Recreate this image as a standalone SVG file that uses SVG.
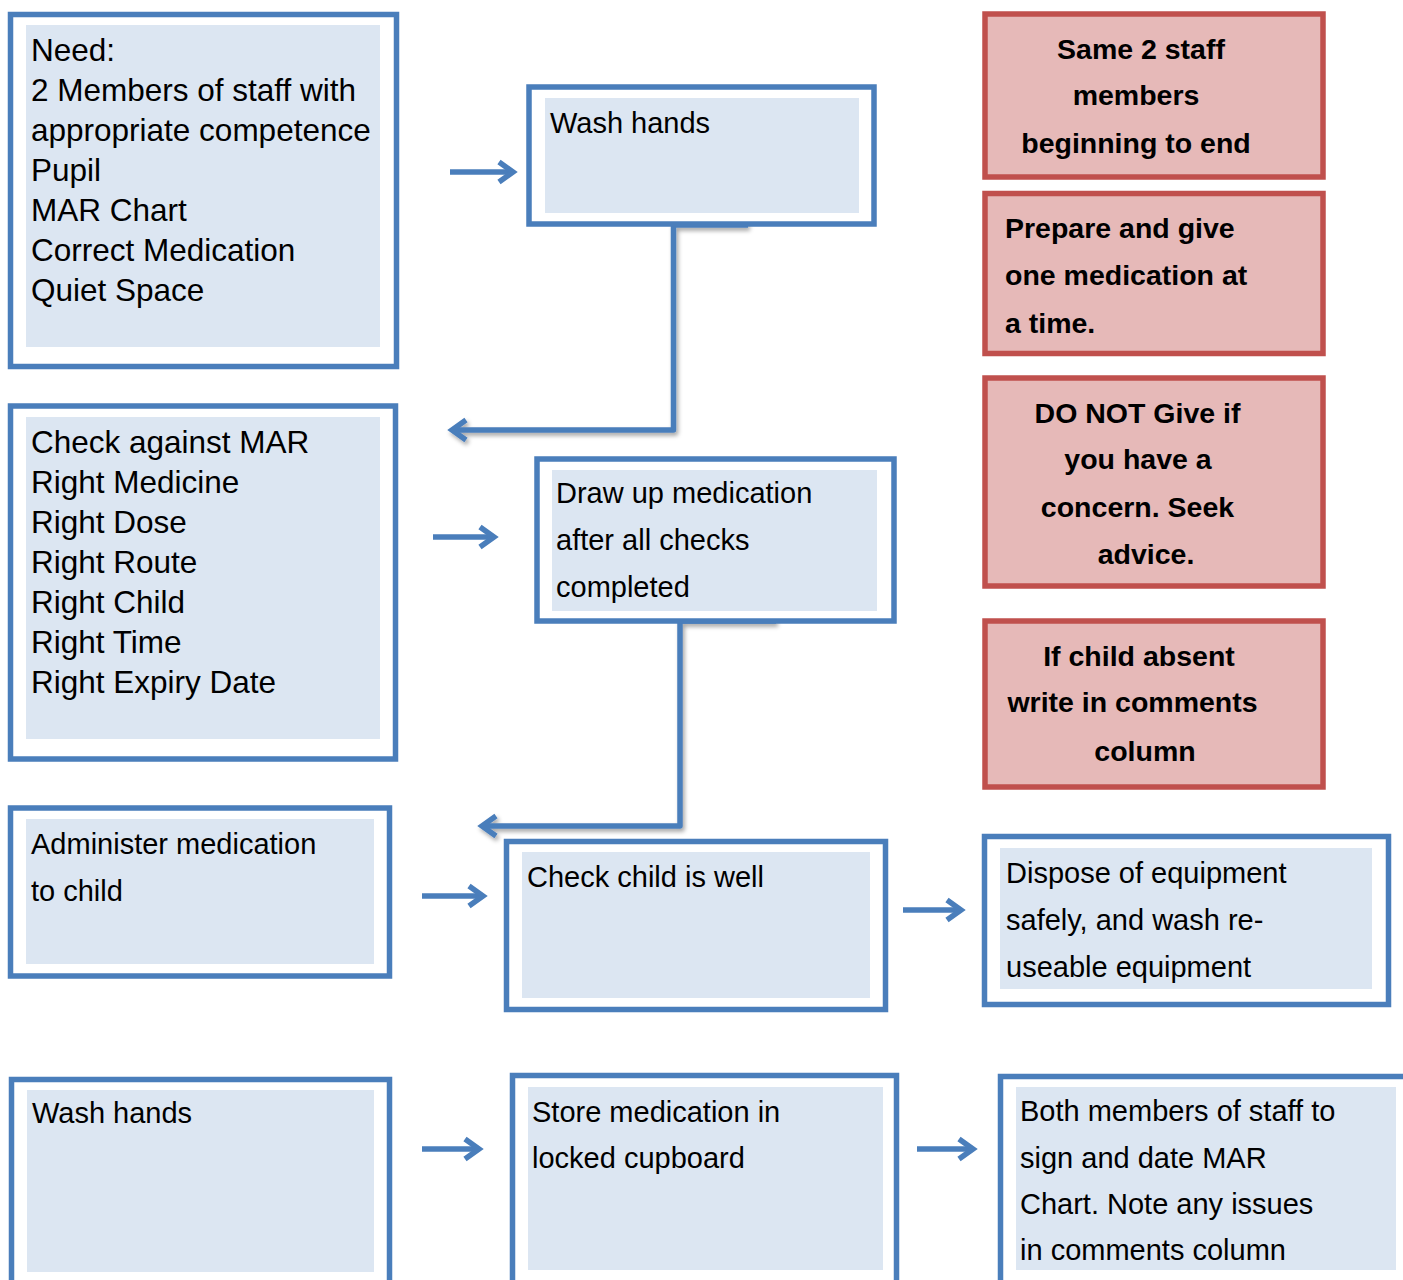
<svg xmlns="http://www.w3.org/2000/svg" width="1403" height="1280" viewBox="0 0 1403 1280">
<defs>
<style>
.outer{fill:#FFFFFF;stroke:#4A7EBB;stroke-width:5.5}
.inner{fill:#DCE6F2}
.red{fill:#E6B9B8;stroke:#C0504D;stroke-width:5.5}
.t{font-family:"Liberation Sans",Arial,sans-serif;font-size:29px;fill:#000}
.big{font-size:31.5px}
.b{font-family:"Liberation Sans",Arial,sans-serif;font-size:28.5px;font-weight:bold;fill:#000}
.c{text-anchor:middle}
.arrow{fill:none;stroke:#4A7EBB;stroke-width:5.5;marker-end:url(#chev)}
.conn{fill:none;stroke:#4A7EBB;stroke-width:5.5;stroke-linejoin:round;marker-end:url(#chev);filter:url(#sh)}
</style>
<marker id="chev" viewBox="-20 -16 30 32" markerWidth="30" markerHeight="32" refX="0" refY="0" markerUnits="userSpaceOnUse" orient="auto">
<path d="M-13,-10 L1,0 L-13,10" fill="none" stroke="#4A7EBB" stroke-width="5.5"/>
</marker>
<filter id="sh" x="-20%" y="-20%" width="140%" height="140%">
<feDropShadow dx="2" dy="3" stdDeviation="2" flood-color="#000" flood-opacity="0.35"/>
</filter>
</defs>

<g id="connectors">
<path class="conn" d="M748,225 H673.5 V430 H453"/>
<path class="conn" d="M776,621 H680 V826 H483"/>
<path class="arrow" d="M450,172 H512"/>
<path class="arrow" d="M433,537 H493"/>
<path class="arrow" d="M422,896 H482"/>
<path class="arrow" d="M903,910 H960"/>
<path class="arrow" d="M422,1149 H478"/>
<path class="arrow" d="M917,1149 H972"/>
</g>

<g id="need">
<rect class="outer" x="10.5" y="14.5" width="386" height="352"/>
<rect class="inner" x="26" y="25" width="354" height="322"/>
<text class="t big" x="31"><tspan x="31" y="61">Need:</tspan><tspan x="31" y="101">2 Members of staff with</tspan><tspan x="31" y="141">appropriate competence</tspan><tspan x="31" y="181">Pupil</tspan><tspan x="31" y="221">MAR Chart</tspan><tspan x="31" y="261">Correct Medication</tspan><tspan x="31" y="301">Quiet Space</tspan></text>
</g>

<g id="wash1">
<rect class="outer" x="529" y="87" width="345" height="137"/>
<rect class="inner" x="545" y="98" width="314" height="115"/>
<text class="t" x="550" y="133">Wash hands</text>
</g>

<g id="check">
<rect class="outer" x="10.5" y="406" width="385" height="353"/>
<rect class="inner" x="26" y="417" width="354" height="322"/>
<text class="t big"><tspan x="31" y="453">Check against MAR</tspan><tspan x="31" y="493">Right Medicine</tspan><tspan x="31" y="533">Right Dose</tspan><tspan x="31" y="573">Right Route</tspan><tspan x="31" y="613">Right Child</tspan><tspan x="31" y="653">Right Time</tspan><tspan x="31" y="693">Right Expiry Date</tspan></text>
</g>

<g id="drawup">
<rect class="outer" x="537" y="459" width="357" height="162"/>
<rect class="inner" x="552" y="470" width="325" height="141"/>
<text class="t"><tspan x="556" y="503">Draw up medication</tspan><tspan x="556" y="550">after all checks</tspan><tspan x="556" y="597">completed</tspan></text>
</g>

<g id="administer">
<rect class="outer" x="10.5" y="808" width="379" height="168"/>
<rect class="inner" x="26" y="819" width="348" height="145"/>
<text class="t"><tspan x="31" y="854">Administer medication</tspan><tspan x="31" y="901">to child</tspan></text>
</g>

<g id="checkwell">
<rect class="outer" x="506.5" y="841.5" width="379" height="168"/>
<rect class="inner" x="522" y="852" width="348" height="146"/>
<text class="t" x="527" y="887">Check child is well</text>
</g>

<g id="dispose">
<rect class="outer" x="984.5" y="836.5" width="404" height="168"/>
<rect class="inner" x="1000" y="848" width="372" height="141"/>
<text class="t"><tspan x="1006" y="883">Dispose of equipment</tspan><tspan x="1006" y="930">safely, and wash re-</tspan><tspan x="1006" y="977">useable equipment</tspan></text>
</g>

<g id="wash2">
<rect class="outer" x="11.5" y="1079.5" width="378" height="210"/>
<rect class="inner" x="27" y="1090" width="347" height="182"/>
<text class="t" x="32" y="1123">Wash hands</text>
</g>

<g id="store">
<rect class="outer" x="512.5" y="1075.5" width="384" height="215"/>
<rect class="inner" x="528" y="1087" width="355" height="183"/>
<text class="t"><tspan x="532" y="1122">Store medication in</tspan><tspan x="532" y="1168">locked cupboard</tspan></text>
</g>

<g id="sign">
<rect class="outer" x="1000.5" y="1076.5" width="420" height="215"/>
<rect class="inner" x="1016" y="1087" width="380" height="183"/>
<text class="t"><tspan x="1020" y="1121">Both members of staff to</tspan><tspan x="1020" y="1168">sign and date MAR</tspan><tspan x="1020" y="1214">Chart. Note any issues</tspan><tspan x="1020" y="1260">in comments column</tspan></text>
</g>

<g id="same-staff">
<rect class="red" x="985" y="14" width="338" height="163"/>
<text class="b c"><tspan x="1141" y="59">Same 2 staff</tspan><tspan x="1136" y="105">members</tspan><tspan x="1136" y="153">beginning to end</tspan></text>
</g>

<g id="one-at-a-time">
<rect class="red" x="985" y="193.5" width="338" height="160"/>
<text class="b"><tspan x="1005" y="238">Prepare and give</tspan><tspan x="1005" y="285">one medication at</tspan><tspan x="1005" y="333">a time.</tspan></text>
</g>

<g id="do-not-give">
<rect class="red" x="985" y="378" width="338" height="208"/>
<text class="b c"><tspan x="1137.5" y="423">DO NOT Give if</tspan><tspan x="1138" y="469">you have a</tspan><tspan x="1137.5" y="517">concern. Seek</tspan><tspan x="1146" y="564">advice.</tspan></text>
</g>

<g id="absent">
<rect class="red" x="985" y="621" width="338" height="166"/>
<text class="b c"><tspan x="1139" y="666">If child absent</tspan><tspan x="1132.5" y="712">write in comments</tspan><tspan x="1145" y="761">column</tspan></text>
</g>
</svg>
